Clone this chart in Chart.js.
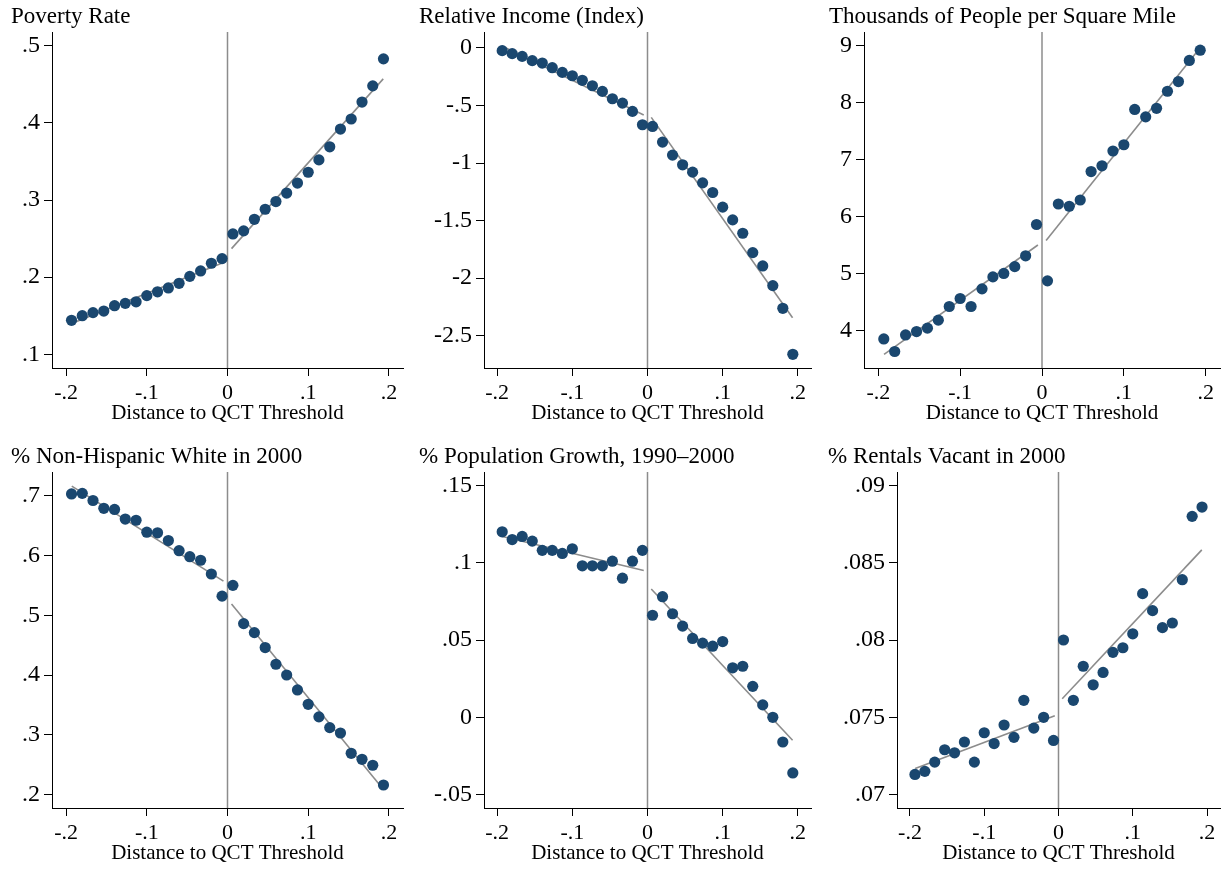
<!DOCTYPE html>
<html>
<head>
<meta charset="utf-8">
<script src="https://cdn.jsdelivr.net/npm/chart.js@4"></script>
<style>
    html, body {margin: 0; padding: 0; background: #fff; overflow: hidden;}
    canvas {position: absolute;}
</style>
</head>
<body>
<script>
// bin centres of distance to the QCT threshold (30 bins)
const binX = [-0.1933, -0.18, -0.1667, -0.1533, -0.14, -0.1267, -0.1133, -0.1, -0.0867, -0.0733,
    -0.06, -0.0467, -0.0333, -0.02, -0.0067, 0.0067, 0.02, 0.0333, 0.0467, 0.06,
    0.0733, 0.0867, 0.1, 0.1133, 0.1267, 0.14, 0.1533, 0.1667, 0.18, 0.1933];
const fitLeftX = [-0.193, -0.005];
const fitRightX = [0.005, 0.193];

const xTicks = [-0.2, -0.1, 0, 0.1, 0.2];
const xTickLabels = ["-.2", "-.1", "0", ".1", ".2"];

const povertyRate = [0.144, 0.150, 0.154, 0.156, 0.163, 0.166, 0.168, 0.176, 0.181, 0.186,
    0.192, 0.201, 0.208, 0.218, 0.224, 0.256, 0.260, 0.275, 0.288, 0.298,
    0.309, 0.322, 0.336, 0.352, 0.369, 0.392, 0.405, 0.427, 0.448, 0.483];
const povertyFitLeft = [0.140, 0.219];
const povertyFitRight = [0.237, 0.457];
const povertyTicks = [0.1, 0.2, 0.3, 0.4, 0.5];
const povertyTickLabels = [".1", ".2", ".3", ".4", ".5"];

const relIncome = [-0.023, -0.049, -0.073, -0.110, -0.131, -0.171, -0.212, -0.241, -0.281, -0.328,
    -0.377, -0.441, -0.479, -0.551, -0.667, -0.682, -0.818, -0.931, -1.015, -1.079,
    -1.172, -1.256, -1.383, -1.494, -1.610, -1.778, -1.894, -2.065, -2.262, -2.662];
const incomeFitLeft = [0.015, -0.583];
const incomeFitRight = [-0.603, -2.345];
const incomeTicks = [-2.5, -2, -1.5, -1, -0.5, 0];
const incomeTickLabels = ["-2.5", "-2", "-1.5", "-1", "-.5", "0"];

const popDensity = [3.85, 3.63, 3.92, 3.98, 4.04, 4.18, 4.42, 4.56, 4.42, 4.73,
    4.94, 5.00, 5.12, 5.31, 5.86, 4.87, 6.22, 6.18, 6.29, 6.79,
    6.89, 7.15, 7.26, 7.88, 7.75, 7.90, 8.20, 8.37, 8.74, 8.92];
const densityFitLeft = [3.58, 5.50];
const densityFitRight = [5.58, 8.96];
const densityTicks = [4, 5, 6, 7, 8, 9];
const densityTickLabels = ["4", "5", "6", "7", "8", "9"];

const pctWhite = [0.703, 0.704, 0.692, 0.679, 0.677, 0.661, 0.659, 0.639, 0.638, 0.625,
    0.608, 0.598, 0.592, 0.569, 0.532, 0.550, 0.486, 0.471, 0.446, 0.418,
    0.400, 0.375, 0.351, 0.330, 0.312, 0.303, 0.269, 0.259, 0.249, 0.216];
const whiteFitLeft = [0.716, 0.557];
const whiteFitRight = [0.519, 0.209];
const whiteTicks = [0.2, 0.3, 0.4, 0.5, 0.6, 0.7];
const whiteTickLabels = [".2", ".3", ".4", ".5", ".6", ".7"];

const popGrowth = [0.120, 0.115, 0.117, 0.114, 0.108, 0.108, 0.106, 0.109, 0.098, 0.098,
    0.098, 0.101, 0.090, 0.101, 0.108, 0.066, 0.078, 0.067, 0.059, 0.051,
    0.048, 0.046, 0.049, 0.032, 0.033, 0.020, 0.008, 0.000, -0.016, -0.036];
const growthFitLeft = [0.117, 0.095];
const growthFitRight = [0.083, -0.0149];
const growthTicks = [-0.05, 0, 0.05, 0.1, 0.15];
const growthTickLabels = ["-.05", "0", ".05", ".1", ".15"];

const rentVacant = [0.0713, 0.0715, 0.0721, 0.0729, 0.0727, 0.0734, 0.0721, 0.0740, 0.0733, 0.0745,
    0.0737, 0.0761, 0.0743, 0.0750, 0.0735, 0.0800, 0.0761, 0.0783, 0.0771, 0.0779,
    0.0792, 0.0795, 0.0804, 0.0830, 0.0819, 0.0808, 0.0811, 0.0839, 0.0880, 0.0886];
const vacantFitLeft = [0.07168, 0.0751];
const vacantFitRight = [0.0762, 0.08583];
const vacantTicks = [0.07, 0.075, 0.08, 0.085, 0.09];
const vacantTickLabels = [".07", ".075", ".08", ".085", ".09"];

const FONT = "'Liberation Serif', 'Times New Roman', serif";
const NAVY = "#1a476f";
const GREY = "#8c8c8c";

const panels = [
    {title: "Poverty Rate", y: povertyRate, fitL: povertyFitLeft, fitR: povertyFitRight,
        ticks: povertyTicks, labels: povertyTickLabels, yMin: 0.0822, yMax: 0.5178,
        left: 0, top: 0, width: 405, padLeft: 11, axisX: 52, padRight: 2},
    {title: "Relative Income (Index)", y: relIncome, fitL: incomeFitLeft, fitR: incomeFitRight,
        ticks: incomeTicks, labels: incomeTickLabels, yMin: -2.781, yMax: 0.139,
        left: 405, top: 0, width: 410, padLeft: 14, axisX: 79, padRight: 4},
    {title: "Thousands of People per Square Mile", y: popDensity, fitL: densityFitLeft, fitR: densityFitRight,
        ticks: densityTicks, labels: densityTickLabels, yMin: 3.34, yMax: 9.24,
        left: 815, top: 0, width: 408, padLeft: 14, axisX: 49, padRight: 3},
    {title: "% Non-Hispanic White in 2000", y: pctWhite, fitL: whiteFitLeft, fitR: whiteFitRight,
        ticks: whiteTicks, labels: whiteTickLabels, yMin: 0.1775, yMax: 0.7397,
        left: 0, top: 440, width: 405, padLeft: 11, axisX: 52, padRight: 2},
    {title: "% Population Growth, 1990\u20132000", y: popGrowth, fitL: growthFitLeft, fitR: growthFitRight,
        ticks: growthTicks, labels: growthTickLabels, yMin: -0.0587, yMax: 0.1587,
        left: 405, top: 440, width: 410, padLeft: 14, axisX: 79, padRight: 4},
    {title: "% Rentals Vacant in 2000", y: rentVacant, fitL: vacantFitLeft, fitR: vacantFitRight,
        ticks: vacantTicks, labels: vacantTickLabels, yMin: 0.06913, yMax: 0.09087,
        left: 815, top: 440, width: 408, padLeft: 13, axisX: 82, padRight: 3}
];

const CANVAS_H = 430;
const PLOT_BOTTOM = 368;

// vertical line at the threshold
const thresholdLine = {
    id: "thresholdLine",
    beforeDatasetsDraw(chart) {
        const {ctx, chartArea, scales} = chart;
        const px = scales.x.getPixelForValue(0);
        ctx.save();
        ctx.strokeStyle = GREY;
        ctx.lineWidth = 1.5;
        ctx.beginPath();
        ctx.moveTo(px, chartArea.top);
        ctx.lineTo(px, chartArea.bottom);
        ctx.stroke();
        ctx.restore();
    }
};

const pairs = (xs, ys) => xs.map((x, i) => ({x, y: ys[i]}));

panels.forEach(p => {
    const canvas = document.createElement("canvas");
    canvas.width = p.width;
    canvas.height = CANVAS_H;
    canvas.style.left = p.left + "px";
    canvas.style.top = p.top + "px";
    canvas.style.width = p.width + "px";
    canvas.style.height = CANVAS_H + "px";
    document.body.appendChild(canvas);

    const lineStyle = {type: "line", showLine: true, borderColor: GREY, borderWidth: 1.6,
        pointRadius: 0, fill: false, tension: 0};

    new Chart(canvas, {
        type: "scatter",
        data: {
            datasets: [
                {data: pairs(binX, p.y), backgroundColor: NAVY, borderWidth: 0,
                    pointRadius: 5.6, pointHoverRadius: 5.6, order: 0},
                {...lineStyle, data: pairs(fitLeftX, p.fitL), order: 1},
                {...lineStyle, data: pairs(fitRightX, p.fitR), order: 1}
            ]
        },
        options: {
            responsive: false,
            devicePixelRatio: 1,
            animation: false,
            layout: {padding: {left: p.padLeft, right: p.padRight, top: 0, bottom: 0}, autoPadding: false},
            plugins: {
                legend: {display: false},
                tooltip: {enabled: false},
                title: {
                    display: true, text: p.title, align: "start", color: "#000",
                    font: {family: FONT, size: 23, weight: "normal", lineHeight: 1},
                    padding: {top: 5, bottom: 4}
                }
            },
            scales: {
                x: {
                    type: "linear", min: -0.2175, max: 0.2175,
                    afterBuildTicks: s => { s.ticks = xTicks.map(v => ({value: v})); },
                    afterFit: s => { s.height = CANVAS_H - PLOT_BOTTOM; },
                    grid: {drawOnChartArea: false, drawTicks: true, tickLength: 8, color: "#000", lineWidth: 1},
                    border: {display: true, color: "#000", width: 1},
                    ticks: {
                        autoSkip: false, maxRotation: 0, color: "#000", padding: 6,
                        font: {family: FONT, size: 22, lineHeight: 1},
                        callback: (v, i) => xTickLabels[i]
                    },
                    title: {
                        display: true, text: "Distance to QCT Threshold", color: "#000",
                        font: {family: FONT, size: 21, lineHeight: 1},
                        padding: {top: 0, bottom: 6}
                    }
                },
                y: {
                    type: "linear", min: p.yMin, max: p.yMax,
                    afterBuildTicks: s => { s.ticks = p.ticks.map(v => ({value: v})); },
                    afterFit: s => { s.width = p.axisX - p.padLeft; },
                    grid: {drawOnChartArea: false, drawTicks: true, tickLength: 8, color: "#000", lineWidth: 1},
                    border: {display: true, color: "#000", width: 1},
                    ticks: {
                        autoSkip: false, color: "#000", padding: 4,
                        font: {family: FONT, size: 24, lineHeight: 1},
                        callback: (v, i) => p.labels[i]
                    }
                }
            }
        },
        plugins: [thresholdLine]
    });
});
</script>
</body>
</html>
